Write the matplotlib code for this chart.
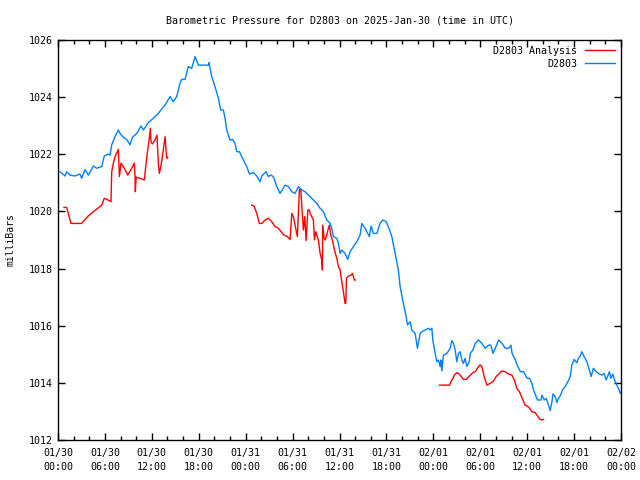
import matplotlib
matplotlib.use("Agg")
import matplotlib.pyplot as plt
import numpy as np

# Station observations (hours since 2025-01-30 00:00 UTC, mbar)
obs_hours = [0.26, 0.9, 1.1, 1.54, 2.17, 2.81, 3.03, 3.45, 3.88, 4.52, 4.95, 5.59, 5.92,
             6.44, 6.65, 6.87, 7.29, 7.72, 7.93, 8.36, 8.78, 9.21, 9.51, 10.07, 10.62,
             10.92, 11.56, 12.19, 12.83, 13.35, 13.69, 14.33, 14.75, 15.18, 15.6, 15.82,
             16.25, 16.67, 17.1, 17.53, 17.95, 19.23, 19.3, 19.66, 20.08, 20.51, 20.81,
             21.15, 21.36, 21.58, 22.0, 22.35, 22.64, 22.86, 23.2, 23.71, 24.14, 24.48,
             24.99, 25.42, 25.84, 26.06, 26.61, 26.9, 27.21, 27.54, 27.76, 27.98, 28.4,
             29.04, 29.46, 29.9, 30.32, 30.74, 31.18, 31.6, 32.02, 32.24, 32.66, 33.1,
             33.52, 33.94, 34.37, 34.8, 35.01, 35.22, 35.65, 35.86, 36.08, 36.29, 36.71,
             37.06, 37.35, 37.78, 38.21, 38.63, 38.85, 39.27, 39.82, 40.04, 40.34, 40.77,
             41.19, 41.53, 41.96, 42.25, 42.69, 43.11, 43.53, 43.75, 44.17, 44.52, 44.69,
             45.03, 45.25, 45.67, 45.97, 46.31, 46.53, 47.08, 47.37, 47.59, 47.81, 47.93,
             48.23, 48.45, 48.65, 48.87, 48.96, 49.09, 49.29, 49.73, 50.15, 50.37, 50.57,
             50.79, 51.0, 51.21, 51.43, 51.65, 51.85, 52.07, 52.29, 52.59, 52.72, 53.06,
             53.36, 53.78, 54.21, 54.63, 55.06, 55.37, 55.62, 55.92, 56.35, 56.78, 57.2,
             57.63, 57.93, 58.07, 58.49, 58.71, 59.13, 59.55, 59.99, 60.3, 60.6, 60.81,
             61.15, 61.32, 61.76, 61.89, 62.18, 62.43, 62.73, 62.95, 63.17, 63.3, 63.59,
             63.8, 64.0, 64.22, 64.56, 64.86, 65.28, 65.5, 65.72, 66.01, 66.35, 66.56,
             66.78, 66.99, 67.28, 67.63, 67.96, 68.18, 68.47, 68.82, 69.12, 69.55, 69.85,
             70.1, 70.52, 70.7, 70.96, 71.17, 71.47, 71.77, 71.9, 72.1]
obs_mbar = [1021.39, 1021.24, 1021.39, 1021.27, 1021.24, 1021.31, 1021.16, 1021.47, 1021.27,
            1021.59, 1021.51, 1021.57, 1021.94, 1022.01, 1021.97, 1022.33, 1022.62, 1022.85,
            1022.73, 1022.59, 1022.52, 1022.33, 1022.59, 1022.73, 1022.99, 1022.85, 1023.11,
            1023.26, 1023.43, 1023.61, 1023.72, 1024.02, 1023.84, 1024.02, 1024.48, 1024.62,
            1024.62, 1025.07, 1025.01, 1025.42, 1025.12, 1025.12, 1025.21, 1024.72, 1024.37,
            1023.96, 1023.55, 1023.55, 1023.26, 1022.85, 1022.5, 1022.52, 1022.38, 1022.09,
            1022.09, 1021.8, 1021.57, 1021.31, 1021.36, 1021.24, 1021.04, 1021.24, 1021.39,
            1021.22, 1021.27, 1021.22, 1021.04, 1020.87, 1020.63, 1020.92, 1020.87, 1020.69,
            1020.63, 1020.87, 1020.75, 1020.69, 1020.57, 1020.52, 1020.4, 1020.28, 1020.11,
            1019.99, 1019.7, 1019.58, 1019.41, 1019.12, 1019.06, 1018.88, 1018.53, 1018.65,
            1018.53, 1018.32, 1018.59, 1018.77, 1018.94, 1019.17, 1019.58, 1019.41, 1019.12,
            1019.49, 1019.23, 1019.23, 1019.58, 1019.7, 1019.64, 1019.47, 1019.12, 1018.53,
            1017.95, 1017.37, 1016.78, 1016.32, 1016.03, 1016.14, 1015.85, 1015.73, 1015.21,
            1015.73, 1015.79, 1015.87, 1015.91, 1015.85, 1015.91, 1015.5, 1015.03, 1014.74,
            1014.8, 1014.57, 1014.8, 1014.42, 1014.97, 1015.03, 1015.21, 1015.48, 1015.38,
            1015.15, 1014.74, 1015.03, 1015.09, 1014.8, 1014.68, 1014.86, 1014.57, 1014.74,
            1015.03, 1015.15, 1015.38, 1015.5, 1015.38, 1015.21, 1015.32, 1015.32, 1015.03,
            1015.21, 1015.5, 1015.38, 1015.21, 1015.21, 1015.32, 1015.03, 1014.8, 1014.63,
            1014.39, 1014.39, 1014.16, 1014.16, 1013.98, 1013.75, 1013.52, 1013.4, 1013.4,
            1013.57, 1013.4, 1013.46, 1013.22, 1013.03, 1013.34, 1013.61, 1013.52, 1013.31,
            1013.46, 1013.54, 1013.77, 1013.87, 1014.08, 1014.22, 1014.63, 1014.82, 1014.7,
            1014.86, 1014.94, 1015.09, 1014.92, 1014.74, 1014.45, 1014.22, 1014.51, 1014.39,
            1014.33, 1014.27, 1014.33, 1014.1, 1014.39, 1014.16, 1014.31, 1014.1, 1013.92,
            1013.75, 1013.63, 1013.69]

# Analysis values, three runs separated by gaps (nan)
ana_hours = [0.77, 1.11, 1.32, 1.66, 3.03, 3.45, 3.88, 4.52, 4.95, 5.59, 5.92, 6.2, 6.78,
             6.87, 7.08, 7.29, 7.72, 7.85, 8.06, 8.48, 8.92, 9.34, 9.76, 9.85, 9.89, 10.0,
             10.49, 11.04, 11.22, 11.47, 11.68, 11.81, 11.9, 12.06, 12.41, 12.66, 12.83,
             12.96, 13.18, 13.47, 13.69, 13.82, 13.9, 14.03,
             np.nan,
             24.78, 25.07, 25.42, 25.75, 26.06, 26.48, 26.9, 27.34, 27.76, 28.18, 28.62,
             28.91, 29.33, 29.68, 29.9, 30.1, 30.32, 30.61, 30.74, 30.87, 31.05, 31.21,
             31.38, 31.56, 31.73, 31.95, 32.15, 32.24, 32.45, 32.66, 32.8, 32.97, 33.1,
             33.3, 33.52, 33.73, 33.81, 33.86, 34.03, 34.16, 34.37, 34.58, 34.71, 34.89,
             35.14, 35.35, 35.65, 35.86, 36.08, 36.29, 36.5, 36.71, 36.8, 36.89, 37.15,
             37.46, 37.66, 37.9, 38.03,
             np.nan,
             48.78, 50.06, 50.37, 50.79, 51.08, 51.43, 51.85, 52.2, 52.62, 53.06, 53.36,
             53.78, 53.99, 54.21, 54.5, 54.84, 55.26, 55.69, 56.03, 56.45, 56.76, 57.18,
             57.61, 58.04, 58.33, 58.68, 59.01, 59.32, 59.74, 59.99, 60.32, 60.6, 61.02,
             61.32, 61.66, 61.88, 62.09]
ana_mbar = [1020.14, 1020.14, 1019.93, 1019.58, 1019.58, 1019.72, 1019.84, 1019.99, 1020.08,
            1020.22, 1020.46, 1020.43, 1020.34, 1021.39, 1021.69, 1021.92, 1022.17, 1021.22,
            1021.69, 1021.51, 1021.27, 1021.47, 1021.69, 1021.24, 1020.69, 1021.2, 1021.16,
            1021.1, 1021.57, 1022.15, 1022.56, 1022.91, 1022.44, 1022.36, 1022.5, 1022.67,
            1021.69, 1021.33, 1021.62, 1022.15, 1022.62, 1022.15, 1021.86, 1021.89,
            np.nan,
            1020.22, 1020.19, 1019.93, 1019.58, 1019.58, 1019.7, 1019.76, 1019.64, 1019.47,
            1019.41, 1019.26, 1019.17, 1019.12, 1019.02, 1019.93, 1019.82, 1019.52, 1019.12,
            1019.93, 1020.77, 1020.77, 1020.05, 1019.35, 1019.82, 1018.98, 1020.05, 1020.05,
            1019.93, 1019.82, 1019.7, 1019.0, 1019.29, 1019.17, 1019.0, 1018.53, 1018.3,
            1017.95, 1019.52, 1019.06, 1019.0, 1019.17, 1019.41, 1019.52, 1019.17, 1018.94,
            1018.65, 1018.36, 1018.07, 1017.95, 1017.54, 1017.19, 1016.78, 1016.78, 1017.66,
            1017.74, 1017.77, 1017.83, 1017.6, 1017.6,
            np.nan,
            1013.92, 1013.92, 1014.1, 1014.31, 1014.36, 1014.27, 1014.12, 1014.12, 1014.24,
            1014.36, 1014.39, 1014.57, 1014.63, 1014.57, 1014.22, 1013.92, 1013.98, 1014.06,
            1014.22, 1014.33, 1014.42, 1014.39, 1014.31, 1014.27, 1014.12, 1013.81, 1013.69,
            1013.49, 1013.22, 1013.19, 1013.11, 1012.99, 1012.96, 1012.84, 1012.72, 1012.7,
            1012.72]

tick_hours = list(range(0, 73, 6))
tick_labels = ["01/30\n00:00", "01/30\n06:00", "01/30\n12:00", "01/30\n18:00",
               "01/31\n00:00", "01/31\n06:00", "01/31\n12:00", "01/31\n18:00",
               "02/01\n00:00", "02/01\n06:00", "02/01\n12:00", "02/01\n18:00",
               "02/02\n00:00"]

plt.rcParams['font.family'] = ['DejaVu Sans Mono']
plt.rcParams['font.size'] = 7

fig = plt.figure(figsize=(6.4, 4.8), dpi=100)
ax = fig.add_axes([58 / 640, 40 / 480, 563 / 640, 400 / 480])

ax.plot(ana_hours, ana_mbar, color='#ff0000', lw=1.0, label='D2803 Analysis')
ax.plot(obs_hours, obs_mbar, color='#0080ff', lw=1.0, label='D2803')

ax.set_xlim(0, 72)
ax.set_ylim(1012, 1026)
ax.set_xticks(tick_hours)
ax.set_xticklabels(tick_labels, linespacing=1.5)
ax.set_xticks(range(0, 73, 2), minor=True)
ax.set_yticks(range(1012, 1027, 2))
ax.tick_params(direction='in', top=True, right=True, length=5, width=1, labelsize=7.2)
ax.tick_params(axis='x', pad=6)
ax.tick_params(which='minor', direction='in', top=True, length=3, width=1)
for sp in ax.spines.values():
    sp.set_linewidth(1)

ax.set_ylabel('milliBars', labelpad=10)
ax.set_title('Barometric Pressure for D2803 on 2025-Jan-30 (time in UTC)', fontsize=7.2, pad=12)

ax.legend(loc='upper right', frameon=False, markerfirst=False, handlelength=3,
          handletextpad=0.8, borderaxespad=0.2, labelspacing=0.3, fontsize=7.2)

fig.savefig('out.png', dpi=100)
